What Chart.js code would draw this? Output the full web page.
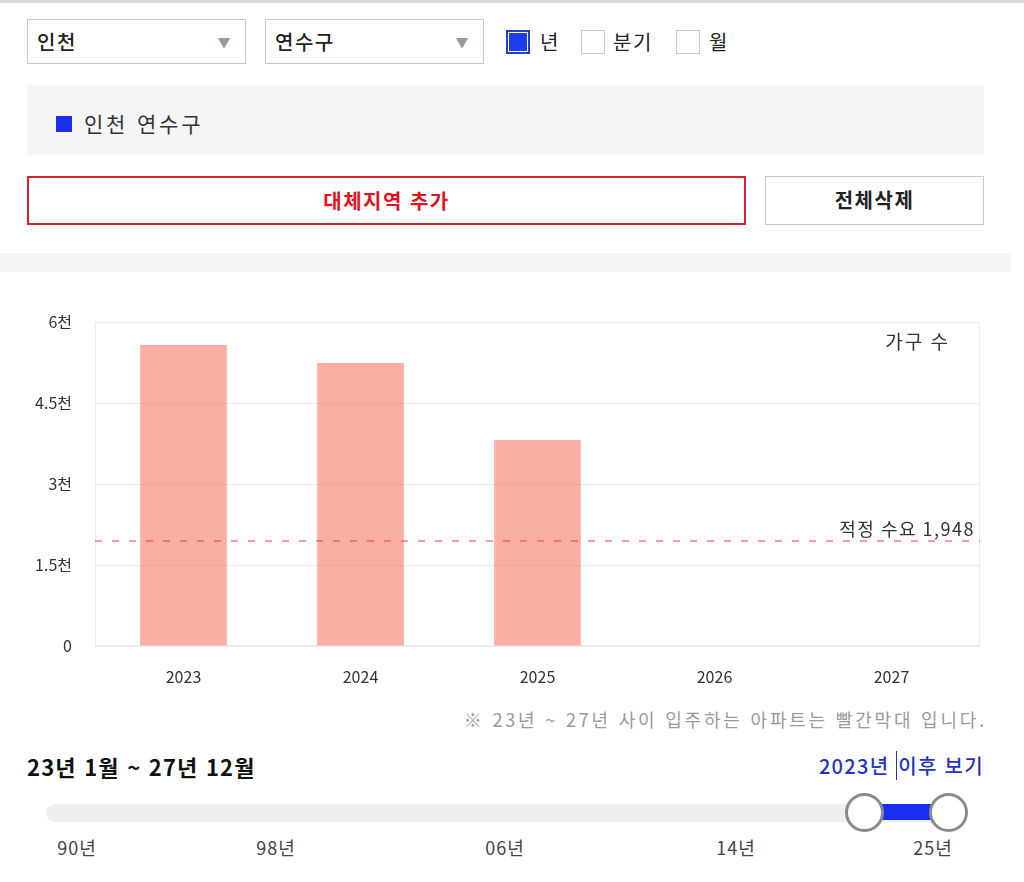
<!DOCTYPE html>
<html lang="ko">
<head>
<meta charset="utf-8">
<script src="https://cdn.jsdelivr.net/npm/chart.js@4/dist/chart.umd.min.js"></script>
<style>
  body { margin: 0; background: #fff; font-family: "Noto Sans CJK KR", "Noto Sans", sans-serif; color: #222; }
  .page { position: relative; width: 1024px; height: 882px; border-top: 3px solid #d6d6d6; box-sizing: border-box; }
  .sel { position: absolute; top: 16px; height: 45px; width: 219px; border: 1px solid #c8c8c8; box-sizing: border-box; font-size: 20px; font-weight: 500; letter-spacing: 1.5px; line-height: 43px; padding-left: 9px; }
  .sel:after { content: "▼"; position: absolute; right: 13px; top: 0; font-size: 13px; color: #999; }
  .chk { position: absolute; top: 27px; width: 24px; height: 24px; border: 1px solid #c8c8c8; box-sizing: border-box; background: #fff; }
  .chk.on { border: 2px solid #2340c8; background: #1d3cf0; box-shadow: inset 0 0 0 1px #fff; }
  .chkl { position: absolute; top: 25px; font-size: 20px; letter-spacing: 1.5px; line-height: 28px; }
  .legend { position: absolute; left: 27px; top: 82px; width: 957px; height: 70px; background: #f5f5f5; }
  .legend i { position: absolute; left: 29px; top: 31px; width: 16px; height: 16px; background: #1a2ef0; }
  .legend span { position: absolute; left: 57px; top: 23px; font-size: 21px; letter-spacing: 2.8px; line-height: 30px; color: #333; }
  .btn { position: absolute; top: 173px; height: 49px; box-sizing: border-box; text-align: center; font-size: 20px; font-weight: 700; letter-spacing: 1.5px; line-height: 46px; }
  .band { position: absolute; left: 0; top: 250px; width: 1011px; height: 19px; background: #f4f4f4; }
  #wrap { position: absolute; left: 0; top: 297px; width: 1000px; height: 396px; }
  .note { position: absolute; right: 37px; top: 703px; font-size: 18px; letter-spacing: 2.8px; color: #9a9a9a; }
  .range { position: absolute; left: 27px; top: 747px; font-size: 22px; letter-spacing: 1.2px; font-weight: 700; color: #111; }
  .after { position: absolute; right: 40px; top: 748px; font-size: 20px; letter-spacing: 1.3px; font-weight: 500; color: #2434c0; }
  .after b { font-weight: 500; border-left: 1px solid #2434c0; padding-left: 1px; }
  .track { position: absolute; left: 46px; top: 801px; width: 919px; height: 18px; border-radius: 9px; background: #eeeff1; }
  .fill { position: absolute; left: 865px; top: 801px; width: 84px; height: 16px; background: #1a2ef0; }
  .knob { position: absolute; top: 790px; width: 39px; height: 39px; border-radius: 50%; border: 3px solid #8a8a8a; background: #fff; box-sizing: border-box; }
  .yr { position: absolute; top: 831px; font-size: 18px; letter-spacing: 1px; color: #444; transform: translateX(-50%); }
</style>
</head>
<body>
<div class="page">
  <div class="sel" style="left:27px;">인천</div>
  <div class="sel" style="left:265px;">연수구</div>
  <div class="chk on" style="left:506px;"></div><div class="chkl" style="left:540px;">년</div>
  <div class="chk" style="left:581px;"></div><div class="chkl" style="left:613px;">분기</div>
  <div class="chk" style="left:676px;"></div><div class="chkl" style="left:709px;">월</div>
  <div class="legend"><i></i><span>인천 연수구</span></div>
  <div class="btn" style="left:27px;width:719px;border:2px solid #d2232a;color:#e0141c;">대체지역 추가</div>
  <div class="btn" style="left:765px;width:219px;border:1px solid #c8c8c8;color:#222;">전체삭제</div>
  <div class="band"></div>
  <div id="wrap"><canvas id="chart"></canvas></div>
  <div class="note">※ 23년 ~ 27년 사이 입주하는 아파트는 빨간막대 입니다.</div>
  <div class="range">23년 1월 ~ 27년 12월</div>
  <div class="after">2023년 <b>이후 보기</b></div>
  <div class="track"></div>
  <div class="fill"></div>
  <div class="knob" style="left:845px;"></div>
  <div class="knob" style="left:929px;"></div>
  <div class="yr" style="left:77px;">90년</div>
  <div class="yr" style="left:276px;">98년</div>
  <div class="yr" style="left:505px;">06년</div>
  <div class="yr" style="left:736px;">14년</div>
  <div class="yr" style="left:933px;">25년</div>
</div>
<script>
const years = ["2023", "2024", "2025", "2026", "2027"];
const households = [5575, 5240, 3815, 0, 0];
const demand = 1948;
const yTicks = [0, 1500, 3000, 4500, 6000];

function tickLabel(v) {
  if (v === 0) return "0";
  return (v / 1000) + "천";
}

const extras = {
  id: "extras",
  beforeDatasetsDraw(chart) {
    const { ctx, chartArea: a } = chart;
    ctx.save();
    ctx.strokeStyle = "#ececec";
    ctx.lineWidth = 1;
    ctx.strokeRect(a.left + 0.5, a.top + 0.5, a.right - a.left - 1, a.bottom - a.top - 1);
    ctx.restore();
  },
  afterDatasetsDraw(chart) {
    const { ctx, chartArea: a, scales } = chart;
    const y = Math.round(scales.y.getPixelForValue(demand));
    ctx.save();
    ctx.strokeStyle = "rgb(232,60,80)";
    ctx.lineWidth = 1.2;
    ctx.setLineDash([7, 10]);
    ctx.beginPath();
    ctx.moveTo(a.left, y);
    ctx.lineTo(a.right, y);
    ctx.stroke();
    ctx.setLineDash([]);
    ctx.fillStyle = "#333";
    ctx.letterSpacing = "1.5px";
    ctx.font = "18px 'Noto Sans CJK KR', sans-serif";
    ctx.textAlign = "right";
    ctx.textBaseline = "bottom";
    ctx.fillText("적정 수요 " + demand.toLocaleString("en-US"), a.right - 5, y - 3);
    ctx.letterSpacing = "2px";
    ctx.font = "19px 'Noto Sans CJK KR', sans-serif";
    ctx.textBaseline = "middle";
    ctx.fillText(chart.data.datasets[0].label, a.right - 30, a.top + 20);
    ctx.restore();
  }
};

new Chart(document.getElementById("chart"), {
  type: "bar",
  data: {
    labels: years,
    datasets: [{
      label: "가구 수",
      data: households,
      backgroundColor: "rgba(247,110,90,0.55)",
      borderWidth: 0,
      categoryPercentage: 1,
      barPercentage: 0.49
    }]
  },
  options: {
    responsive: true,
    maintainAspectRatio: false,
    animation: false,
    layout: { padding: { top: 22, right: 20, left: 0, bottom: 0 } },
    plugins: { legend: { display: false }, tooltip: { enabled: false } },
    scales: {
      x: {
        grid: { display: false, drawTicks: false },
        border: { color: "#ececec" },
        ticks: { color: "#333", padding: 21, font: { size: 16, family: "'Noto Sans CJK KR', sans-serif" } },
        afterFit(s) { s.height = 50; }
      },
      y: {
        min: 0,
        max: 6000,
        afterBuildTicks(s) { s.ticks = yTicks.map(v => ({ value: v })); },
        grid: { color: "#ececec", drawTicks: false },
        border: { color: "#ececec" },
        ticks: { color: "#333", padding: 23, callback: tickLabel, font: { size: 16, family: "'Noto Sans CJK KR', sans-serif" } },
        afterFit(s) { s.width = 95; s.paddingTop = 0; s.paddingBottom = 0; }
      }
    }
  },
  plugins: [extras]
});
</script>
</body>
</html>
